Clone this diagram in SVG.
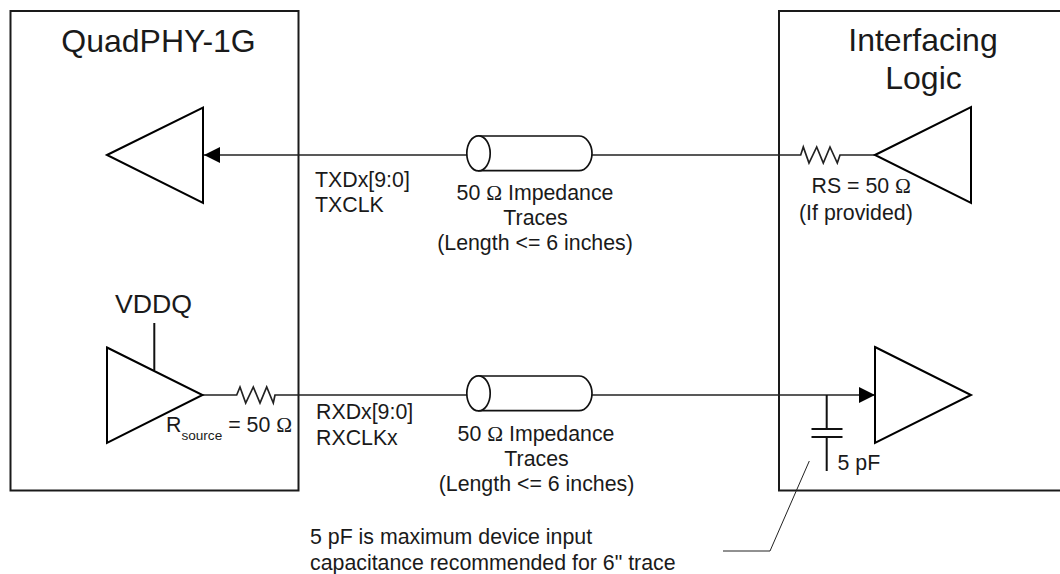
<svg xmlns="http://www.w3.org/2000/svg" width="1060" height="574" viewBox="0 0 1060 574">
<defs>
<marker id="arrow" markerUnits="userSpaceOnUse" markerWidth="17" markerHeight="16" refX="16" refY="8" orient="auto"><path d="M0 0L16 8L0 16Z" fill="#000"/></marker>
</defs>
<style>
text{font-family:"Liberation Sans",Arial,sans-serif;font-size:21.33px;fill:#1a1a1a}
.t{font-size:32px;text-anchor:middle}
.v{font-size:26.7px}
.sub{font-size:13.6px}
.box{fill:none;stroke:#1a1a1a;stroke-width:2}
.tri{fill:#fff;stroke:#000;stroke-width:2}
.w{fill:none;stroke:#222;stroke-width:1.7}
.w2{fill:none;stroke:#111;stroke-width:2}
.cyl{fill:#fff;stroke:#111;stroke-width:1.7}
.th{fill:none;stroke:#222;stroke-width:1}
.m{text-anchor:middle}
.sym{font-family:"Liberation Serif",serif}
</style>
<g id="quadphy"><rect class="box" x="10.500" y="11" width="288" height="479.500"/><text class="t" x="158.500" y="52">QuadPHY-1G</text></g>
<g id="logic"><rect class="box" x="779" y="11" width="290" height="479.500"/><text class="t" x="923" y="51">Interfacing</text><text class="t" x="923.500" y="89">Logic</text></g>
<g id="connectors">
<path class="w" d="M875 155H840L837.300 163L830 147L823.300 163L816.700 147L809 163L803.300 147L800.700 155H592"/>
<path class="w" d="M467 155H204" marker-end="url(#arrow)"/>
<path class="w" d="M202 395H236.700L240 387L245.700 403L253.300 387L260 403L266.700 387L273.300 403L275 395H467"/>
<path class="w" d="M592 395H875" marker-end="url(#arrow)"/>
<path class="w2" d="M154.300 370V323M826.700 395V429M826.700 437V471"/>
<path class="w2" d="M811.500 429H842.500M811.500 437H842.500"/>
<path class="th" d="M809.300 461L770 551H723"/>
</g>
<g id="tx-buffer"><path class="tri" d="M107 155L203 107.500V203Z"/></g>
<g id="rx-buffer"><path class="tri" d="M107 347.500L202.500 395L107 443Z"/></g>
<g id="tx-driver"><path class="tri" d="M875 155L971 107V203Z"/></g>
<g id="rx-receiver"><path class="tri" d="M875 347L971 395L875 443Z"/></g>
<g id="tx-trace"><path class="cyl" d="M479 136H579C586 136 592 144 592 153.200C592 162.500 586 170.700 579 170.700H479Z"/><ellipse class="cyl" cx="478.500" cy="153.300" rx="11.700" ry="17.500"/></g>
<g id="rx-trace"><path class="cyl" d="M479 376H579C586 376 592 384 592 393.200C592 402.500 586 410.700 579 410.700H479Z"/><ellipse class="cyl" cx="478.500" cy="393.300" rx="11.700" ry="17.500"/></g>
<g id="labels">
<text x="115" y="313" class="v">VDDQ</text>
<text x="166" y="432">R<tspan class="sub" dy="8">source</tspan><tspan dy="-8"> = 50 </tspan><tspan class="sym">Ω</tspan></text>
<text x="315" y="187">TXDx[9:0]</text><text x="315" y="212">TXCLK</text>
<text x="316" y="419">RXDx[9:0]</text><text x="316" y="445">RXCLKx</text>
<text class="m" x="535" y="200">50 <tspan class="sym">Ω</tspan> Impedance</text><text class="m" x="535.500" y="225">Traces</text><text class="m" x="535" y="250">(Length &lt;= 6 inches)</text>
<text class="m" x="536" y="441">50 <tspan class="sym">Ω</tspan> Impedance</text><text class="m" x="536.500" y="466">Traces</text><text class="m" x="536.500" y="491">(Length &lt;= 6 inches)</text>
<text x="811.500" y="193">RS = 50 <tspan class="sym">Ω</tspan></text><text x="799" y="220">(If provided)</text>
<text x="837.500" y="470">5 pF</text>
<text x="310" y="544">5 pF is maximum device input</text><text x="310" y="570">capacitance recommended for 6" trace</text>
</g>
</svg>
